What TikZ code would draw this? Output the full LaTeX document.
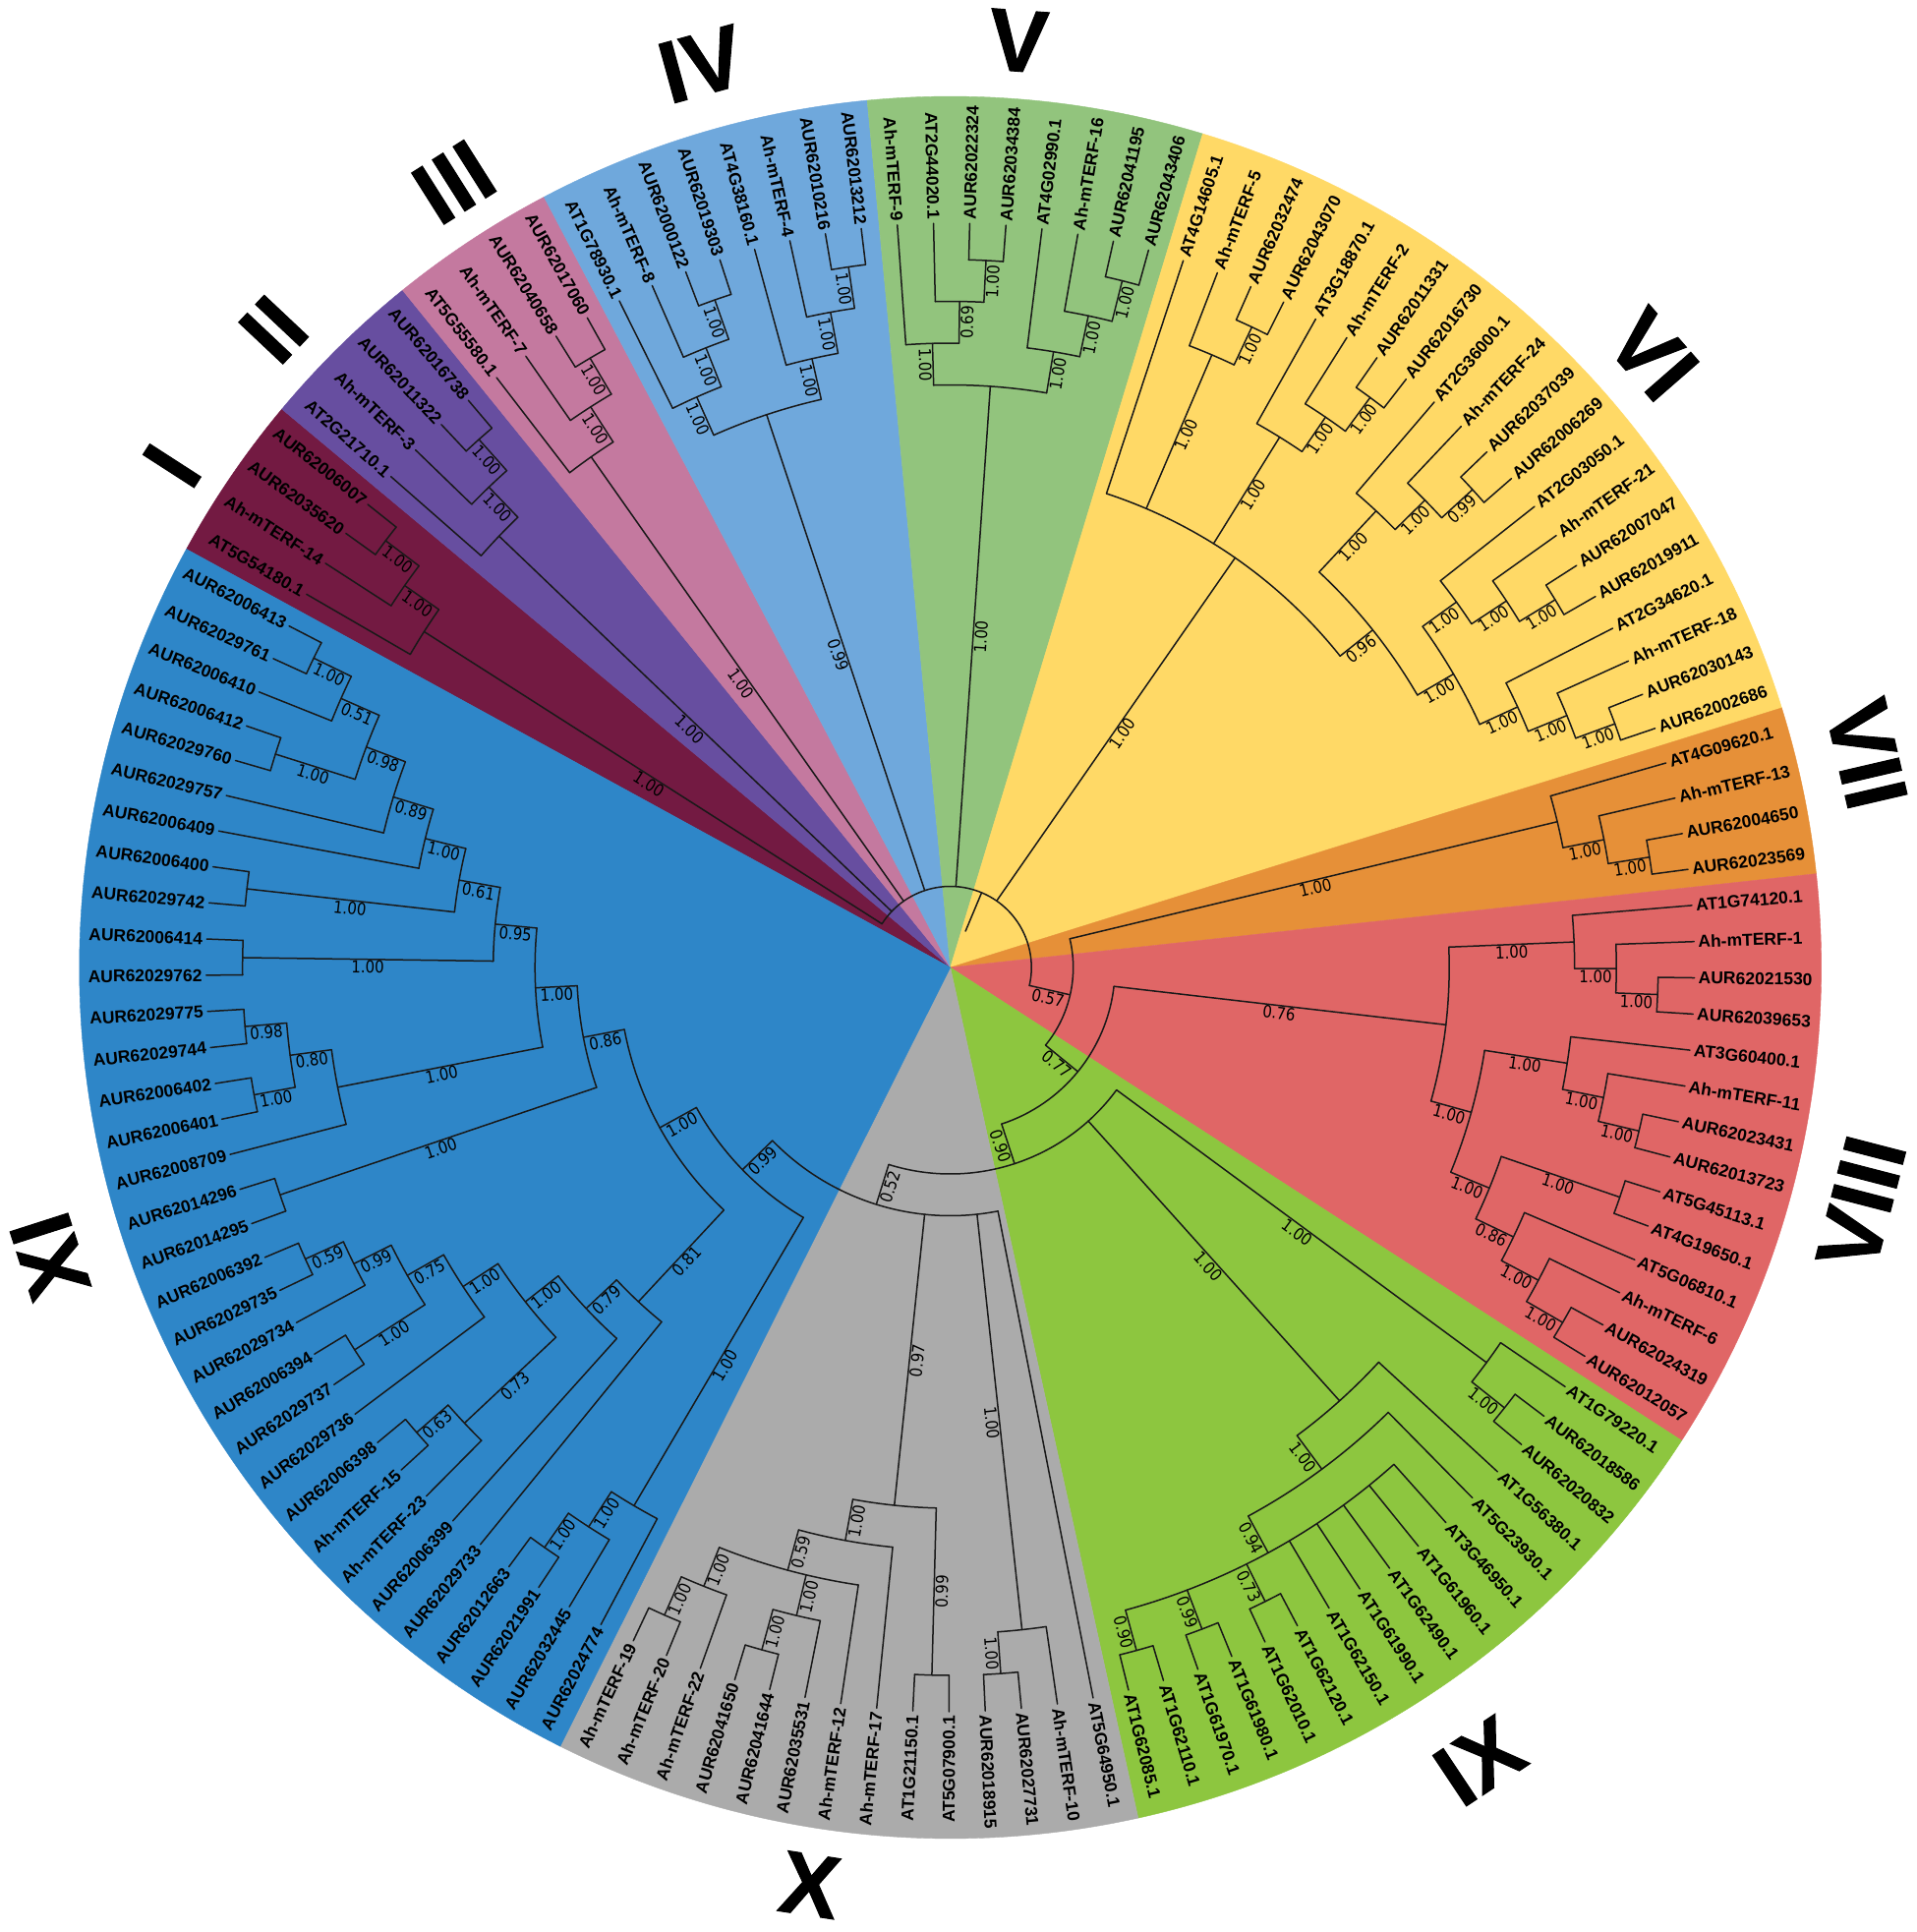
\documentclass[tikz,border=0pt]{standalone}
\usepackage{fontspec}
\newfontfamily\leaffam{Liberation Sans}
\newfontfamily\bsfam{DejaVu Sans}[FakeStretch=0.88]
\newfontfamily\romfam{Liberation Sans}[BoldFeatures={FakeBold=1}]
\definecolor{colI}{HTML}{731A42}
\definecolor{colII}{HTML}{674EA0}
\definecolor{colIII}{HTML}{C4799F}
\definecolor{colIV}{HTML}{6FA8DC}
\definecolor{colV}{HTML}{92C47D}
\definecolor{colVI}{HTML}{FFD966}
\definecolor{colVII}{HTML}{E69038}
\definecolor{colVIII}{HTML}{E06666}
\definecolor{colIX}{HTML}{8DC63F}
\definecolor{colX}{HTML}{ABABAB}
\definecolor{colXI}{HTML}{2E86C8}
\tikzset{
  br/.style={line width=1.5pt, line cap=round, line join=round, draw=black!90},
  leaflab/.style={font=\leaffam\bfseries\fontsize{17.5}{18}\selectfont, inner sep=0pt},
  bslab/.style={font=\bsfam\fontsize{17}{18}\selectfont, inner sep=1.3pt},
  rom/.style={font=\romfam\bfseries\fontsize{90}{92}\selectfont, inner sep=0pt}
}
\newcommand\ThZ{149.9}
\newcommand\StP{2.790698}
% sector
\newcommand\Sec[3]{%
  \pgfmathsetmacro\secA{\ThZ-(#1-0.5)*\StP}%
  \pgfmathsetmacro\secB{\ThZ-(#2+0.5)*\StP}%
  \fill[#3, draw=#3, line width=0.4pt] (0,0) -- (\secA:886) arc[start angle=\secA, end angle=\secB, radius=886] -- cycle;}
% leaf
\newcommand\Lf[2]{%
  \expandafter\xdef\csname p@L#1\endcsname{#1}%
  \expandafter\xdef\csname h@L#1\endcsname{0}%
  \expandafter\xdef\csname r@L#1\endcsname{757}%
  \expandafter\xdef\csname s@L#1\endcsname{}%
  \pgfmathsetmacro\lfTh{\ThZ-#1*\StP}%
  \pgfmathsetmacro\lfAn{mod(\lfTh+720,360)}%
  \pgfmathsetmacro\lfFl{(\lfAn>90 && \lfAn<270) ? 1 : 0}%
  \ifdim\lfFl pt>0.5pt
    \node[leaflab, anchor=east, rotate=\lfTh+180] (T#1) at (\lfTh:761) {#2};
  \else
    \node[leaflab, anchor=west, rotate=\lfTh] (T#1) at (\lfTh:761) {#2};
  \fi}
% internal node
\newcommand\Nd[3]{%
  \gdef\ndLo{1000}\gdef\ndHi{-1000}\gdef\ndH{0}%
  \foreach \ndC in {#3}{%
    \pgfmathsetmacro\ndCp{\csname p@\ndC\endcsname}%
    \pgfmathsetmacro\ndCh{\csname h@\ndC\endcsname}%
    \pgfmathsetmacro\ndTa{min(\ndLo,\ndCp)}\global\let\ndLo\ndTa
    \pgfmathsetmacro\ndTb{max(\ndHi,\ndCp)}\global\let\ndHi\ndTb
    \pgfmathsetmacro\ndTc{max(\ndH,\ndCh)}\global\let\ndH\ndTc
  }%
  \pgfmathsetmacro\ndP{(\ndLo+\ndHi)/2}%
  \pgfmathsetmacro\ndHH{\ndH+1}%
  \pgfmathsetmacro\ndR{762.5-42.5*\ndHH}%
  \expandafter\xdef\csname p@#1\endcsname{\ndP}%
  \expandafter\xdef\csname h@#1\endcsname{\ndHH}%
  \expandafter\xdef\csname r@#1\endcsname{\ndR}%
  \expandafter\xdef\csname s@#1\endcsname{#2}%
  \pgfmathsetmacro\ndAa{\ThZ-\ndLo*\StP}%
  \pgfmathsetmacro\ndAb{\ThZ-\ndHi*\StP}%
  \draw[br] (\ndAa:\ndR) arc[start angle=\ndAa, end angle=\ndAb, radius=\ndR];
  \pgfmathsetmacro\ndPt{\ThZ-\ndP*\StP}%
  \coordinate (#1) at (\ndPt:\ndR);
  \foreach \ndC in {#3}{%
    \pgfmathsetmacro\ndCp{\csname p@\ndC\endcsname}%
    \pgfmathsetmacro\ndCr{\csname r@\ndC\endcsname}%
    \pgfmathsetmacro\ndCt{\ThZ-\ndCp*\StP}%
    \draw[br] (\ndCt:\ndR) -- (\ndCt:\ndCr);
    \edef\ndCs{\csname s@\ndC\endcsname}%
    \ifx\ndCs\empty\else
      \pgfmathsetmacro\ndCm{(\ndR+\ndCr)/2}%
      \pgfmathsetmacro\ndAn{mod(\ndCt+720,360)}%
      \pgfmathsetmacro\ndRot{(\ndAn>90 && \ndAn<270) ? \ndCt+180 : \ndCt}%
      \node[bslab, rotate=\ndRot, anchor=north] at (\ndCt:\ndCm) {\ndCs};
    \fi
  }}
\begin{document}
\begin{tikzpicture}[x=1pt,y=1pt]
\useasboundingbox (-966.7,-981) rectangle (983.3,984);
% sectors
\Sec{0}{3}{colI}
\Sec{4}{7}{colII}
\Sec{8}{11}{colIII}
\Sec{12}{19}{colIV}
\Sec{20}{27}{colV}
\Sec{28}{47}{colVI}
\Sec{48}{51}{colVII}
\Sec{52}{65}{colVIII}
\Sec{66}{81}{colIX}
\Sec{82}{95}{colX}
\Sec{96}{128}{colXI}
% leaves
\Lf{0}{AT5G54180.1}
\Lf{1}{Ah-mTERF-14}
\Lf{2}{AUR62035620}
\Lf{3}{AUR62006007}
\Lf{4}{AT2G21710.1}
\Lf{5}{Ah-mTERF-3}
\Lf{6}{AUR62011322}
\Lf{7}{AUR62016738}
\Lf{8}{AT5G55580.1}
\Lf{9}{Ah-mTERF-7}
\Lf{10}{AUR62040658}
\Lf{11}{AUR62017060}
\Lf{12}{AT1G78930.1}
\Lf{13}{Ah-mTERF-8}
\Lf{14}{AUR62000122}
\Lf{15}{AUR62019303}
\Lf{16}{AT4G38160.1}
\Lf{17}{Ah-mTERF-4}
\Lf{18}{AUR62010216}
\Lf{19}{AUR62013212}
\Lf{20}{Ah-mTERF-9}
\Lf{21}{AT2G44020.1}
\Lf{22}{AUR62022324}
\Lf{23}{AUR62034384}
\Lf{24}{AT4G02990.1}
\Lf{25}{Ah-mTERF-16}
\Lf{26}{AUR62041195}
\Lf{27}{AUR62043406}
\Lf{28}{AT4G14605.1}
\Lf{29}{Ah-mTERF-5}
\Lf{30}{AUR62032474}
\Lf{31}{AUR62043070}
\Lf{32}{AT3G18870.1}
\Lf{33}{Ah-mTERF-2}
\Lf{34}{AUR62011331}
\Lf{35}{AUR62016730}
\Lf{36}{AT2G36000.1}
\Lf{37}{Ah-mTERF-24}
\Lf{38}{AUR62037039}
\Lf{39}{AUR62006269}
\Lf{40}{AT2G03050.1}
\Lf{41}{Ah-mTERF-21}
\Lf{42}{AUR62007047}
\Lf{43}{AUR62019911}
\Lf{44}{AT2G34620.1}
\Lf{45}{Ah-mTERF-18}
\Lf{46}{AUR62030143}
\Lf{47}{AUR62002686}
\Lf{48}{AT4G09620.1}
\Lf{49}{Ah-mTERF-13}
\Lf{50}{AUR62004650}
\Lf{51}{AUR62023569}
\Lf{52}{AT1G74120.1}
\Lf{53}{Ah-mTERF-1}
\Lf{54}{AUR62021530}
\Lf{55}{AUR62039653}
\Lf{56}{AT3G60400.1}
\Lf{57}{Ah-mTERF-11}
\Lf{58}{AUR62023431}
\Lf{59}{AUR62013723}
\Lf{60}{AT5G45113.1}
\Lf{61}{AT4G19650.1}
\Lf{62}{AT5G06810.1}
\Lf{63}{Ah-mTERF-6}
\Lf{64}{AUR62024319}
\Lf{65}{AUR62012057}
\Lf{66}{AT1G79220.1}
\Lf{67}{AUR62018586}
\Lf{68}{AUR62020832}
\Lf{69}{AT1G56380.1}
\Lf{70}{AT5G23930.1}
\Lf{71}{AT3G46950.1}
\Lf{72}{AT1G61960.1}
\Lf{73}{AT1G62490.1}
\Lf{74}{AT1G61990.1}
\Lf{75}{AT1G62150.1}
\Lf{76}{AT1G62120.1}
\Lf{77}{AT1G62010.1}
\Lf{78}{AT1G61980.1}
\Lf{79}{AT1G61970.1}
\Lf{80}{AT1G62110.1}
\Lf{81}{AT1G62085.1}
\Lf{82}{AT5G64950.1}
\Lf{83}{Ah-mTERF-10}
\Lf{84}{AUR62027731}
\Lf{85}{AUR62018915}
\Lf{86}{AT5G07900.1}
\Lf{87}{AT1G21150.1}
\Lf{88}{Ah-mTERF-17}
\Lf{89}{Ah-mTERF-12}
\Lf{90}{AUR62035531}
\Lf{91}{AUR62041644}
\Lf{92}{AUR62041650}
\Lf{93}{Ah-mTERF-22}
\Lf{94}{Ah-mTERF-20}
\Lf{95}{Ah-mTERF-19}
\Lf{96}{AUR62024774}
\Lf{97}{AUR62032445}
\Lf{98}{AUR62021991}
\Lf{99}{AUR62012663}
\Lf{100}{AUR62029733}
\Lf{101}{AUR62006399}
\Lf{102}{Ah-mTERF-23}
\Lf{103}{Ah-mTERF-15}
\Lf{104}{AUR62006398}
\Lf{105}{AUR62029736}
\Lf{106}{AUR62029737}
\Lf{107}{AUR62006394}
\Lf{108}{AUR62029734}
\Lf{109}{AUR62029735}
\Lf{110}{AUR62006392}
\Lf{111}{AUR62014295}
\Lf{112}{AUR62014296}
\Lf{113}{AUR62008709}
\Lf{114}{AUR62006401}
\Lf{115}{AUR62006402}
\Lf{116}{AUR62029744}
\Lf{117}{AUR62029775}
\Lf{118}{AUR62029762}
\Lf{119}{AUR62006414}
\Lf{120}{AUR62029742}
\Lf{121}{AUR62006400}
\Lf{122}{AUR62006409}
\Lf{123}{AUR62029757}
\Lf{124}{AUR62029760}
\Lf{125}{AUR62006412}
\Lf{126}{AUR62006410}
\Lf{127}{AUR62029761}
\Lf{128}{AUR62006413}
% clade I
\Nd{a1}{1.00}{L2,L3}
\Nd{a2}{1.00}{L1,a1}
\Nd{cI}{1.00}{L0,a2}
% clade II
\Nd{b1}{1.00}{L6,L7}
\Nd{b2}{1.00}{L5,b1}
\Nd{cII}{1.00}{L4,b2}
% clade III
\Nd{c1}{1.00}{L10,L11}
\Nd{c2}{1.00}{L9,c1}
\Nd{cIII}{1.00}{L8,c2}
% clade IV
\Nd{d1}{1.00}{L14,L15}
\Nd{d2}{1.00}{L13,d1}
\Nd{d3}{1.00}{L12,d2}
\Nd{d4}{1.00}{L18,L19}
\Nd{d5}{1.00}{L17,d4}
\Nd{d6}{1.00}{L16,d5}
\Nd{cIV}{0.99}{d3,d6}
% clade V
\Nd{e1}{1.00}{L22,L23}
\Nd{e2}{0.69}{L21,e1}
\Nd{e3}{1.00}{L20,e2}
\Nd{e4}{1.00}{L26,L27}
\Nd{e5}{1.00}{L25,e4}
\Nd{e6}{1.00}{L24,e5}
\Nd{cV}{1.00}{e3,e6}
% clade VI
\Nd{f1}{1.00}{L30,L31}
\Nd{f2}{1.00}{L29,f1}
\Nd{f3}{1.00}{L34,L35}
\Nd{f4}{1.00}{L33,f3}
\Nd{f5}{1.00}{L32,f4}
\Nd{f6}{0.99}{L38,L39}
\Nd{f7}{1.00}{L37,f6}
\Nd{f8}{1.00}{L36,f7}
\Nd{f9}{1.00}{L42,L43}
\Nd{f10}{1.00}{L41,f9}
\Nd{f11}{1.00}{L40,f10}
\Nd{f12}{1.00}{L46,L47}
\Nd{f13}{1.00}{L45,f12}
\Nd{f14}{1.00}{L44,f13}
\Nd{f15}{1.00}{f11,f14}
\Nd{f16}{0.96}{f8,f15}
\Nd{cVI}{1.00}{L28,f2,f5,f16}
% clade VII
\Nd{g1}{1.00}{L50,L51}
\Nd{g2}{1.00}{L49,g1}
\Nd{cVII}{1.00}{L48,g2}
% clade VIII
\Nd{h1}{1.00}{L54,L55}
\Nd{h2}{1.00}{L53,h1}
\Nd{h3}{1.00}{L52,h2}
\Nd{h4}{1.00}{L58,L59}
\Nd{h5}{1.00}{L57,h4}
\Nd{h6}{1.00}{L56,h5}
\Nd{h7}{1.00}{L60,L61}
\Nd{h8}{1.00}{L64,L65}
\Nd{h9}{1.00}{L63,h8}
\Nd{h10}{0.86}{L62,h9}
\Nd{h11}{1.00}{h7,h10}
\Nd{h12}{1.00}{h6,h11}
\Nd{cVIII}{0.76}{h3,h12}
% clade IX
\Nd{i1}{1.00}{L67,L68}
\Nd{cIXa}{1.00}{L66,i1}
\Nd{i2}{0.73}{L76,L77}
\Nd{i3}{0.99}{L78,L79}
\Nd{i4}{0.90}{L80,L81}
\Nd{i5}{0.94}{L71,L72,L73,L74,L75,i2,i3,i4}
\Nd{i6}{1.00}{L70,i5}
\Nd{cIXb}{1.00}{L69,i6}
% clade X
\Nd{j1}{1.00}{L84,L85}
\Nd{jb}{1.00}{L83,j1}
\Nd{j2}{0.99}{L86,L87}
\Nd{j3}{1.00}{L91,L92}
\Nd{j4}{1.00}{L90,j3}
\Nd{j5}{1.00}{L94,L95}
\Nd{j6}{1.00}{L93,j5}
\Nd{j7}{0.59}{L89,j4,j6}
\Nd{j8}{1.00}{L88,j7}
\Nd{ja}{0.97}{j2,j8}
% clade XI
\Nd{k1}{1.00}{L98,L99}
\Nd{k2}{1.00}{L97,k1}
\Nd{k3}{1.00}{L96,k2}
\Nd{k4}{0.63}{L103,L104}
\Nd{k5}{0.73}{L102,k4}
\Nd{k6}{0.59}{L109,L110}
\Nd{k7}{0.99}{L108,k6}
\Nd{k8}{1.00}{L106,L107}
\Nd{k9}{0.75}{k8,k7}
\Nd{k10}{1.00}{L105,k9}
\Nd{k11}{1.00}{k5,k10}
\Nd{k12}{0.79}{L101,k11}
\Nd{k13}{0.81}{L100,k12}
\Nd{k14}{1.00}{L127,L128}
\Nd{k15}{0.51}{L126,k14}
\Nd{k16}{1.00}{L124,L125}
\Nd{k17}{0.98}{k16,k15}
\Nd{k18}{0.89}{L123,k17}
\Nd{k19}{1.00}{L122,k18}
\Nd{k20}{1.00}{L120,L121}
\Nd{k21}{0.61}{k20,k19}
\Nd{k22}{1.00}{L118,L119}
\Nd{k23}{0.95}{k22,k21}
\Nd{k24}{0.98}{L116,L117}
\Nd{k25}{1.00}{L114,L115}
\Nd{k26}{0.80}{k25,k24}
\Nd{k27}{1.00}{L113,k26}
\Nd{k28}{1.00}{k27,k23}
\Nd{k29}{1.00}{L111,L112}
\Nd{k30}{0.86}{k29,k28}
\Nd{k31}{1.00}{k13,k30}
\Nd{cXI}{0.99}{k3,k31}
% backbone
\Nd{nb}{0.52}{L82,jb,ja,cXI}
\Nd{n90}{0.90}{cIXa,cIXb,nb}
\Nd{n77}{0.77}{cVIII,n90}
\Nd{n57}{0.57}{cVII,n77}
\Nd{root}{}{cI,cII,cIII,cIV,cV,cVI,n57}
\pgfmathsetmacro\rootT{\ThZ-\csname p@root\endcsname*\StP}
\coordinate (rootbase) at (\rootT:40);
\draw[br] (rootbase) -- (root);
% clade numerals
\node[rom, rotate=57.2] at (147.2:942) {I};
\node[rom, rotate=46.7] at (136.7:946) {II};
\node[rom, rotate=32.3] at (122.3:945) {III};
\node[rom, rotate=15.4] at (105.4:953) {IV};
\node[rom, rotate=-4.2] at (85.8:945) {V};
\node[rom, rotate=-48.9] at (41.1:948) {VI};
\node[rom, rotate=-76.9] at (13.1:957) {VII};
\node[rom, rotate=75.5] at (-14.5:957) {VIII};
\node[rom, rotate=33.7] at (-56.3:970) {IX};
\node[rom, rotate=-8.7] at (-98.7:944) {X};
\node[rom, rotate=107.8] at (197.8:962) {XI};
\end{tikzpicture}
\end{document}
